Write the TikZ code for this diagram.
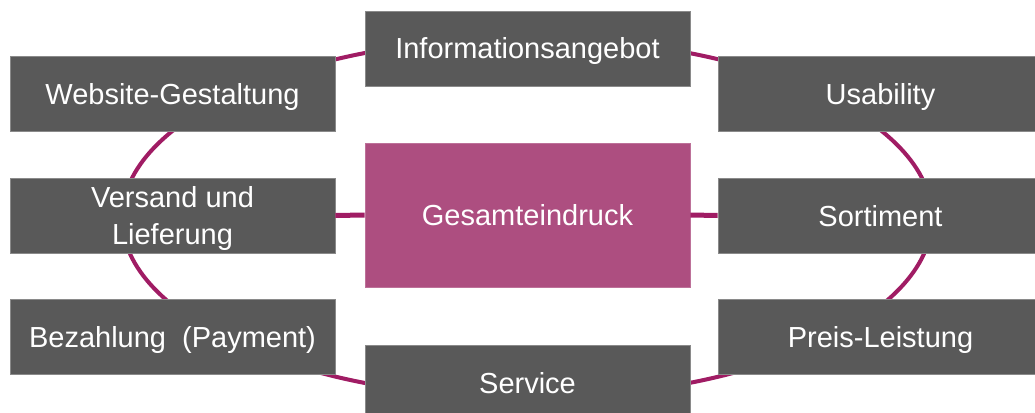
\documentclass[tikz,border=0pt]{standalone}
\usepackage{fontspec}
\setmainfont{Liberation Sans}
\definecolor{boxgray}{HTML}{595959}
\definecolor{boxedge}{HTML}{8A8A8A}
\definecolor{centerpink}{HTML}{AD4E80}
\definecolor{ringpurple}{HTML}{A01C64}
\tikzset{
  tbox/.style={rectangle, fill=boxgray, draw=boxedge, line width=0.8pt,
    minimum width=325pt, minimum height=75pt, inner sep=0pt,
    text=white, font=\fontsize{29}{37.5}\selectfont, align=center,
    text height=21pt, text depth=0pt},
  cbox/.style={tbox, fill=centerpink, draw=centerpink!80!white, minimum height=144pt},
  ring/.style={draw=ringpurple, line width=4pt},
  link/.style={draw=ringpurple, line width=5pt}
}
\begin{document}
\begin{tikzpicture}[x=1pt,y=-1pt]
\useasboundingbox (0,0) rectangle (1035,412);
\clip (0,0) rectangle (1035,412);
\draw[ring] (527,218) ellipse [x radius=405pt, y radius=180pt];
\node[cbox] (ges) at (527.5,215) {Gesamteindruck};
\node[tbox] (info) at (527.5,48.5) {Informationsangebot};
\node[tbox] (web) at (172.5,93.5) {Website-Gestaltung};
\node[tbox] (usa) at (880.5,93.5) {Usability};
\node[tbox, text height=58.5pt] (vers) at (172.5,215.5) {Versand und\\Lieferung};
\node[tbox] (sort) at (880.5,215.5) {Sortiment};
\node[tbox] (bez) at (172.5,336.5) {Bezahlung\ \ (Payment)};
\node[tbox] (preis) at (880.5,336.5) {Preis-Leistung};
\node[tbox] (serv) at (527.5,382.5) {Service};
\draw[link] (ges.west) -- (vers.east);
\draw[link] (ges.east) -- (sort.west);
\end{tikzpicture}
\end{document}
